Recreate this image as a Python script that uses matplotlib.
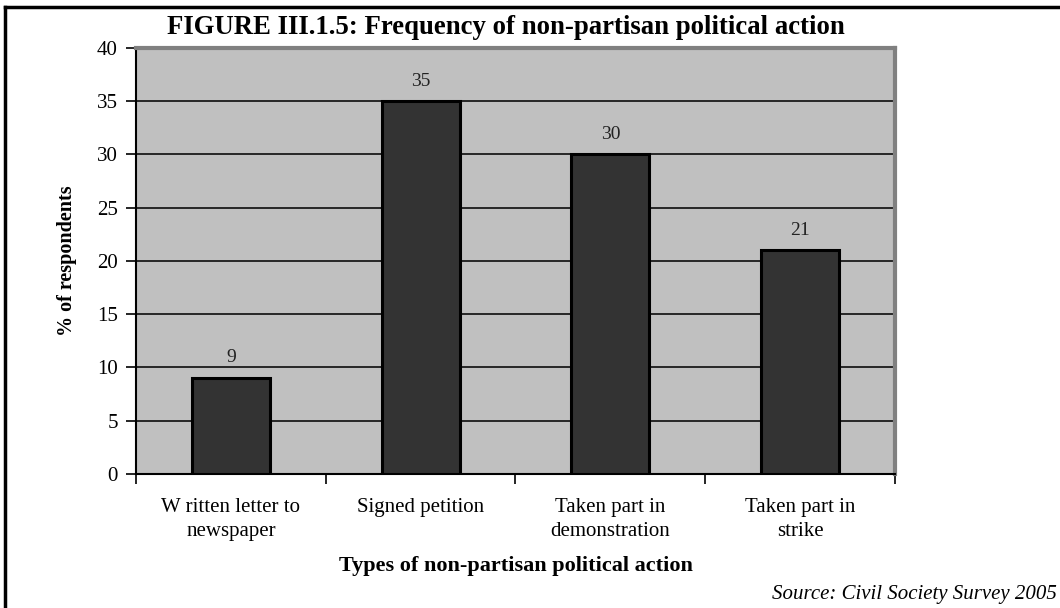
import numpy as np
import matplotlib.pyplot as plt
from matplotlib.lines import Line2D

categories = ['W ritten letter to\nnewspaper', 'Signed petition',
              'Taken part in\ndemonstration', 'Taken part in\nstrike']
values = [9, 35, 30, 21]
yticks = [0, 5, 10, 15, 20, 25, 30, 35, 40]

plt.rcParams['font.family'] = ['Liberation Serif', 'DejaVu Serif']

fig = plt.figure(figsize=(10.6, 6.08), dpi=100)
ax = fig.add_axes([0.1283, 0.2204, 0.716, 0.7007])
ax.set_facecolor('#c0c0c0')

x = np.arange(len(categories))
ax.bar(x, values, width=0.41, color='#333333', edgecolor='black', linewidth=2.2, zorder=3)
for xi, v in zip(x, values):
    ax.text(xi, v + 1.1, str(v), ha='center', va='bottom', fontsize=14, color='#222222')

ax.set_xlim(-0.5, 3.5)
ax.set_ylim(0, 40)
ax.set_yticks(yticks)
ax.set_yticklabels([str(t) for t in yticks], fontsize=15)
ax.yaxis.grid(True, color='#1a1a1a', linewidth=1.3, zorder=1)
ax.set_axisbelow(True)

ax.set_xticks(x)
ax.set_xticklabels(categories, fontsize=15, linespacing=1.35)
ax.tick_params(axis='x', which='major', length=0, pad=17)
ax.set_xticks(np.arange(-0.5, 4, 1), minor=True)
ax.tick_params(axis='x', which='minor', length=7, width=1.2, direction='out')
ax.tick_params(axis='y', length=7, width=1.2, direction='out', pad=6)

for side in ['top', 'right']:
    ax.spines[side].set_color('#808080')
    ax.spines[side].set_linewidth(3)
for side in ['left', 'bottom']:
    ax.spines[side].set_color('black')
    ax.spines[side].set_linewidth(1.5)

ax.set_ylabel('% of respondents', fontsize=14.5, fontweight='bold', labelpad=14)
ax.set_xlabel('Types of non-partisan political action', fontsize=16, fontweight='bold', labelpad=11)

fig.text(0.477, 0.955, 'FIGURE III.1.5: Frequency of non-partisan political action',
         ha='center', va='center', fontsize=19.3, fontweight='bold')
fig.text(0.997, 0.022, 'Source: Civil Society Survey 2005', ha='right', va='center',
         fontsize=15, style='italic')

# page frame lines
fig.add_artist(Line2D([0.005, 1.0], [0.988, 0.988], color='black', linewidth=2.5))
fig.add_artist(Line2D([0.005, 0.005], [0.0, 0.988], color='black', linewidth=2.5))

fig.savefig('out.png', dpi=100)
